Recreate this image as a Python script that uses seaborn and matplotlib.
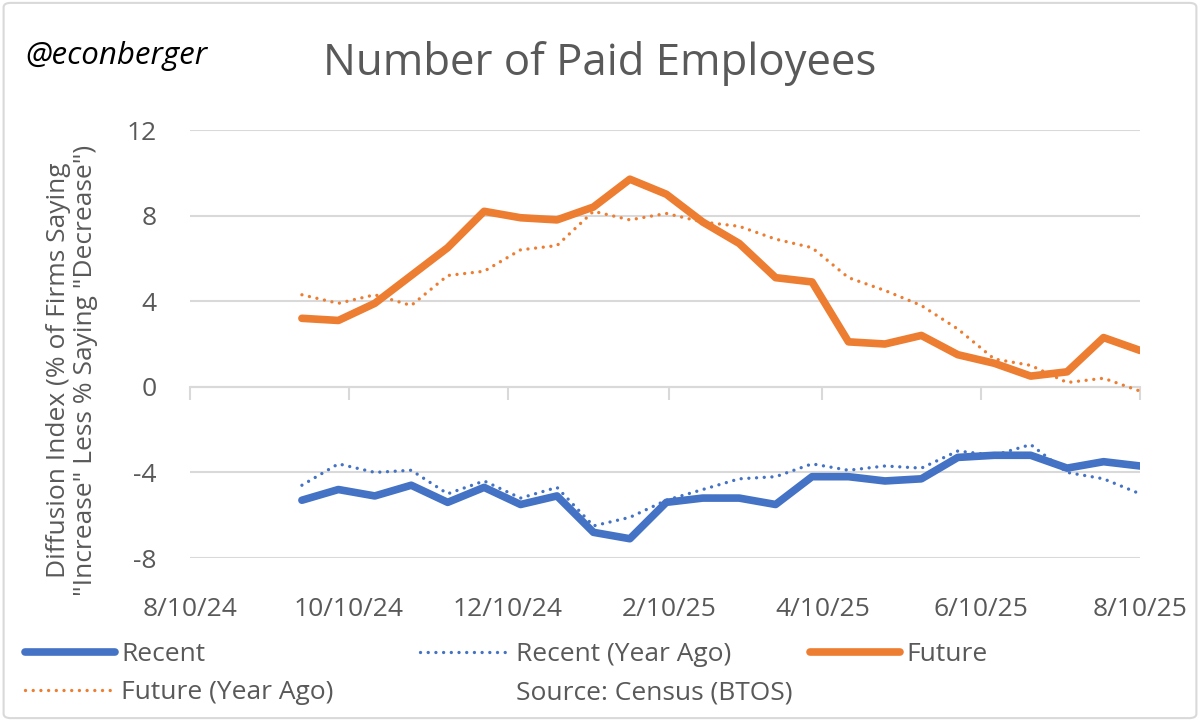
import numpy as np
import pandas as pd
import matplotlib
matplotlib.use("Agg")
import matplotlib.pyplot as plt
import matplotlib.dates as mdates
from matplotlib.lines import Line2D
from matplotlib.patches import FancyBboxPatch
import seaborn as sns

# ---------------- data ----------------
dates = pd.date_range("2024-09-22", periods=24, freq="14D")
recent = [-5.3, -4.8, -5.1, -4.6, -5.4, -4.7, -5.5, -5.1, -6.8, -7.1, -5.4, -5.2,
          -5.2, -5.5, -4.2, -4.2, -4.4, -4.3, -3.3, -3.2, -3.2, -3.8, -3.5, -3.7]
recent_ya = [-4.6, -3.6, -4.0, -3.9, -5.0, -4.4, -5.2, -4.7, -6.5, -6.1, -5.3, -4.8,
             -4.3, -4.2, -3.6, -3.9, -3.7, -3.8, -3.0, -3.2, -2.7, -4.0, -4.3, -5.0]
future = [3.2, 3.1, 3.9, 5.2, 6.5, 8.2, 7.9, 7.8, 8.4, 9.7, 9.0, 7.7,
          6.7, 5.1, 4.9, 2.1, 2.0, 2.4, 1.5, 1.1, 0.5, 0.7, 2.3, 1.7]
future_ya = [4.3, 3.9, 4.3, 3.8, 5.2, 5.4, 6.4, 6.6, 8.2, 7.8, 8.1, 7.7,
             7.5, 6.9, 6.5, 5.1, 4.5, 3.8, 2.7, 1.3, 1.0, 0.2, 0.4, -0.2]
tick_dates = pd.to_datetime(["2024-08-10", "2024-10-10", "2024-12-10", "2025-02-10",
                             "2025-04-10", "2025-06-10", "2025-08-10"])
tick_labels = ["8/10/24", "10/10/24", "12/10/24", "2/10/25", "4/10/25", "6/10/25", "8/10/25"]
y_ticks = [-8, -4, 0, 4, 8, 12]

df = pd.DataFrame({"date": dates, "Recent": recent, "Recent (Year Ago)": recent_ya,
                   "Future": future, "Future (Year Ago)": future_ya})

# ---------------- style ----------------
sns.set_theme(style="white")
plt.rcParams["font.family"] = ["Open Sans", "DejaVu Sans"]

BLUE = "#4472C4"
ORANGE = "#ED7D31"
GRID = "#D9D9D9"
TXT = "#595959"
FS = 19
DOT = (0, (0.01, 2.3))

fig = plt.figure(figsize=(12, 7.21), dpi=100)
ax = fig.add_axes([190/1200, 1-558/721, (1140-190)/1200, (558-130)/721])

solid_kw = dict(solid_capstyle="round", solid_joinstyle="round")
dot_kw = dict(dash_capstyle="round")
sns.lineplot(data=df, x="date", y="Recent", ax=ax, color=BLUE, linewidth=5.5, **solid_kw)
sns.lineplot(data=df, x="date", y="Recent (Year Ago)", ax=ax, color=BLUE, linewidth=2.4,
             linestyle=DOT, **dot_kw)
sns.lineplot(data=df, x="date", y="Future", ax=ax, color=ORANGE, linewidth=5.5, **solid_kw)
sns.lineplot(data=df, x="date", y="Future (Year Ago)", ax=ax, color=ORANGE, linewidth=2.4,
             linestyle=DOT, **dot_kw)

ax.set_xlim(tick_dates[0], tick_dates[-1])
ax.set_ylim(-8, 12)
ax.set_yticks(y_ticks)
ax.set_yticklabels([str(v) for v in y_ticks], fontsize=FS, color=TXT)
ax.set_xticks(tick_dates)
ax.set_xticklabels(tick_labels, fontsize=FS, color=TXT)
ax.tick_params(axis="x", length=0, pad=28)
ax.tick_params(axis="y", length=0, pad=24)
ax.set_xlabel("")
ax.set_ylabel("")
for s in ax.spines.values():
    s.set_visible(False)
ax.yaxis.grid(True, color=GRID, linewidth=1.5)
ax.xaxis.grid(False)
ax.set_axisbelow(True)

# zero axis line with tick marks
sec = ax.secondary_xaxis(0.4)
sec.set_xticks(tick_dates)
sec.set_xticklabels([])
sec.tick_params(axis="x", direction="out", length=9, width=1.5, color=GRID)
for k, s in sec.spines.items():
    if k == "bottom":
        s.set_color(GRID)
        s.set_linewidth(1.5)
    else:
        s.set_visible(False)

# texts
fig.text(600/1200, 1-63/721, "Number of Paid Employees", ha="center", va="center",
         fontsize=31.5, color=TXT)
fig.text(25/1200, 1-56/721, "@econberger", ha="left", va="center",
         fontsize=22.5, style="italic", color="black")
fig.text(72/1200, 1-370/721,
         'Diffusion Index (% of Firms Saying\n"Increase" Less % Saying "Decrease")',
         rotation=90, ha="center", va="center", fontsize=FS, color=TXT,
         multialignment="center", linespacing=1.15)

# legends
def h(color, lw, ls):
    return Line2D([0], [0], color=color, linewidth=lw, linestyle=ls,
                  solid_capstyle="round", dash_capstyle="round")

leg_kw = dict(frameon=False, fontsize=FS, handlelength=3.4, handletextpad=0.25,
              labelspacing=0.5, borderaxespad=0, borderpad=0, labelcolor=TXT)
top = 1 - 642/721
l1 = fig.legend([h(BLUE, 5.5, "-"), h(ORANGE, 2.4, DOT)],
                ["Recent", "Future (Year Ago)"], loc="upper left",
                bbox_to_anchor=(25/1200, top), **leg_kw)
l2 = fig.legend([h(BLUE, 2.4, DOT), Line2D([], [], color="none")],
                ["Recent (Year Ago)", "Source: Census (BTOS)"], loc="upper left",
                bbox_to_anchor=(420/1200, top), **leg_kw)
l3 = fig.legend([h(ORANGE, 5.5, "-")], ["Future"], loc="upper left",
                bbox_to_anchor=(810/1200, top), **leg_kw)

# outer border
fig.patches.append(FancyBboxPatch((0.003, 0.004), 0.994, 0.992,
                                  boxstyle="round,pad=0,rounding_size=0.006",
                                  transform=fig.transFigure, facecolor="none",
                                  edgecolor=GRID, linewidth=1.5))

fig.savefig("out.png", dpi=100)
